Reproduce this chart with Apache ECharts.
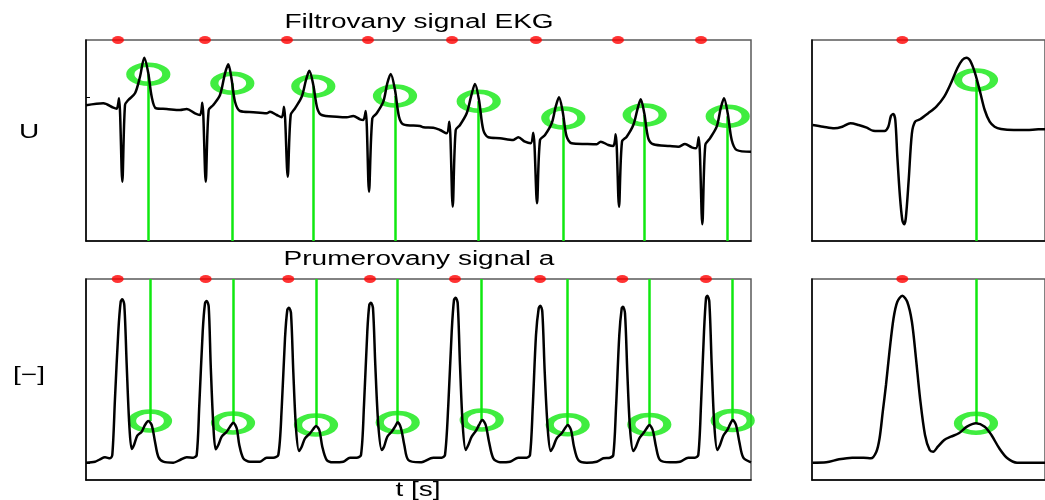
<!DOCTYPE html>
<html>
<head>
<meta charset="utf-8">
<script src="https://cdn.jsdelivr.net/npm/echarts@6/dist/echarts.min.js"></script>
<style>
html, body { margin: 0; padding: 0; background: #fff; }
#chart { width: 1045px; height: 500px; }
</style>
</head>
<body>
<div id="chart"></div>
<script>
// Filtrovany signal EKG, [t (s), U]
const ekgFiltered = [
  [0.00,1.357],[0.173,1.377],[0.273,1.333],[0.307,1.323],[0.33,1.427],[0.363,0.593],[0.39,1.36],[0.423,1.41],[0.49,1.477],[0.54,1.643],[0.583,1.833],[0.623,1.677],[0.657,1.443],[0.70,1.327],[0.807,1.32],[0.94,1.31],[1.007,1.32],[1.09,1.277],[1.14,1.26],
  [1.163,1.383],[1.197,0.593],[1.227,1.31],[1.273,1.36],[1.34,1.46],[1.39,1.677],[1.423,1.767],[1.457,1.61],[1.49,1.393],[1.54,1.30],[1.673,1.287],[1.807,1.277],[1.84,1.293],[1.907,1.26],[1.957,1.237],
  [1.98,1.343],[2.017,0.643],[2.047,1.26],[2.09,1.327],[2.157,1.443],[2.20,1.61],[2.233,1.703],[2.273,1.56],[2.313,1.327],[2.357,1.26],[2.507,1.243],[2.607,1.237],[2.673,1.25],[2.74,1.217],[2.773,1.21],
  [2.797,1.30],[2.83,0.493],[2.863,1.227],[2.907,1.277],[2.973,1.393],[3.013,1.577],[3.047,1.67],[3.09,1.51],[3.13,1.243],[3.173,1.167],[3.34,1.15],[3.373,1.137],[3.473,1.133],[3.54,1.11],[3.607,1.077],
  [3.633,1.193],[3.667,0.343],[3.697,1.11],[3.74,1.16],[3.807,1.277],[3.85,1.443],[3.89,1.57],[3.93,1.41],[3.973,1.11],[4.023,1.037],[4.14,1.027],[4.273,1.01],[4.323,1.037],[4.39,0.993],[4.447,0.977],
  [4.473,1.083],[4.51,0.377],[4.54,1.01],[4.59,1.06],[4.657,1.177],[4.697,1.343],[4.73,1.437],[4.767,1.293],[4.807,1.043],[4.857,0.977],[5.007,0.97],[5.107,0.967],[5.147,0.993],[5.223,0.96],[5.273,0.95],
  [5.297,1.067],[5.33,0.343],[5.36,0.993],[5.407,1.043],[5.473,1.16],[5.517,1.327],[5.547,1.417],[5.583,1.277],[5.623,1.027],[5.673,0.967],[5.84,0.95],[5.923,0.943],[5.99,0.97],[6.057,0.937],[6.10,0.927],
  [6.127,1.037],[6.163,0.167],[6.193,0.96],[6.24,1.027],[6.307,1.143],[6.347,1.327],[6.38,1.427],[6.417,1.277],[6.457,1.01],[6.507,0.91],[6.65,0.893]
];

// Prumerovany signal a
const avgSignal = [
  [0,0.173],[0.09,0.183],[0.14,0.207],[0.19,0.227],[0.24,0.217],[0.263,0.25],[0.29,0.817],[0.323,1.483],[0.347,1.783],[0.363,1.807],[0.383,1.75],[0.407,1.15],[0.433,0.55],[0.457,0.31],[0.48,0.35],[0.513,0.443],[0.557,0.483],[0.59,0.55],[0.623,0.59],[0.657,0.55],[0.69,0.383],[0.723,0.233],[0.773,0.183],[0.873,0.173],[0.94,0.20],[1.007,0.227],[1.073,0.223],
  [1.107,0.25],[1.133,0.75],[1.167,1.483],[1.19,1.767],[1.207,1.79],[1.227,1.733],[1.247,1.15],[1.273,0.55],[1.297,0.307],[1.323,0.35],[1.357,0.433],[1.407,0.483],[1.44,0.533],[1.473,0.573],[1.507,0.517],[1.533,0.35],[1.573,0.217],[1.64,0.183],[1.74,0.183],[1.807,0.223],[1.873,0.223],
  [1.923,0.25],[1.957,0.717],[1.99,1.417],[2.013,1.70],[2.03,1.723],[2.05,1.667],[2.073,1.083],[2.10,0.517],[2.13,0.29],[2.157,0.333],[2.19,0.417],[2.24,0.467],[2.273,0.51],[2.30,0.54],[2.333,0.50],[2.363,0.333],[2.407,0.20],[2.473,0.177],[2.573,0.183],[2.64,0.223],[2.707,0.223],
  [2.75,0.25],[2.78,0.75],[2.813,1.483],[2.833,1.75],[2.85,1.773],[2.87,1.717],[2.893,1.15],[2.923,0.55],[2.957,0.30],[2.98,0.333],[3.013,0.433],[3.057,0.483],[3.09,0.533],[3.117,0.577],[3.15,0.517],[3.183,0.35],[3.223,0.20],[3.34,0.177],[3.373,0.183],[3.473,0.223],[3.557,0.223],
  [3.59,0.25],[3.623,0.75],[3.657,1.483],[3.68,1.80],[3.697,1.823],[3.717,1.767],[3.74,1.15],[3.767,0.55],[3.797,0.30],[3.823,0.35],[3.857,0.433],[3.90,0.493],[3.93,0.55],[3.963,0.60],[3.997,0.55],[4.03,0.383],[4.073,0.217],[4.14,0.177],[4.24,0.183],[4.323,0.223],[4.407,0.223],
  [4.44,0.25],[4.467,0.717],[4.50,1.45],[4.527,1.717],[4.543,1.743],[4.563,1.683],[4.587,1.083],[4.617,0.517],[4.647,0.29],[4.673,0.333],[4.707,0.417],[4.757,0.467],[4.79,0.517],[4.817,0.55],[4.85,0.50],[4.88,0.333],[4.923,0.20],[5.007,0.173],[5.107,0.183],[5.173,0.217],[5.24,0.223],
  [5.273,0.25],[5.30,0.717],[5.333,1.45],[5.357,1.717],[5.37,1.733],[5.39,1.667],[5.413,1.083],[5.44,0.517],[5.473,0.29],[5.50,0.333],[5.533,0.417],[5.573,0.467],[5.607,0.517],[5.633,0.55],[5.667,0.50],[5.70,0.333],[5.74,0.20],[5.84,0.177],[5.94,0.183],[6.023,0.223],[6.09,0.223],
  [6.123,0.25],[6.15,0.75],[6.18,1.483],[6.20,1.817],[6.213,1.843],[6.233,1.783],[6.257,1.15],[6.283,0.55],[6.313,0.30],[6.34,0.35],[6.373,0.443],[6.413,0.50],[6.44,0.557],[6.467,0.60],[6.50,0.55],[6.533,0.383],[6.573,0.223],[6.65,0.177]
];

// single beat detail (right panels), t in s from panel start
const ekgBeat = [
  [0.002,1.16],[0.038,1.143],[0.077,1.127],[0.104,1.143],[0.132,1.177],[0.16,1.16],[0.188,1.133],[0.21,1.103],[0.249,1.10],[0.262,1.143],[0.271,1.25],[0.279,1.27],[0.286,1.21],[0.293,0.843],[0.302,0.443],[0.31,0.21],[0.316,0.167],[0.322,0.227],[0.332,0.61],[0.343,1.077],[0.354,1.193],
  [0.371,1.217],[0.399,1.277],[0.427,1.343],[0.454,1.443],[0.477,1.577],[0.499,1.727],[0.516,1.81],[0.53,1.833],[0.543,1.803],[0.56,1.677],[0.577,1.493],[0.593,1.31],[0.61,1.193],[0.627,1.143],[0.649,1.12],[0.693,1.11],[0.738,1.11],[0.777,1.117],[0.80,1.117]
];
const avgBeat = [
  [0.002,0.173],[0.049,0.177],[0.093,0.207],[0.138,0.223],[0.177,0.223],[0.202,0.217],[0.221,0.283],[0.232,0.417],[0.243,0.683],[0.254,0.95],[0.266,1.283],[0.28,1.617],[0.293,1.783],[0.31,1.843],[0.327,1.783],[0.343,1.583],[0.357,1.217],[0.371,0.817],[0.388,0.45],[0.404,0.30],
  [0.416,0.283],[0.432,0.333],[0.454,0.40],[0.477,0.433],[0.504,0.467],[0.532,0.533],[0.563,0.567],[0.593,0.533],[0.616,0.45],[0.643,0.317],[0.671,0.217],[0.704,0.173],[0.777,0.173],[0.80,0.173]
];

// detected R peaks (red) and T waves (green)
const rPeakTop = [0.32, 1.19, 2.01, 2.82, 3.66, 4.50, 5.32, 6.15];
const rPeakBottom = [0.317, 1.197, 2.023, 2.84, 3.69, 4.54, 5.363, 6.20];
const tWaveTimeTop = [0.623, 1.463, 2.273, 3.09, 3.927, 4.773, 5.587, 6.417];
const tWaveValueTop = [1.668, 1.577, 1.547, 1.45, 1.398, 1.23, 1.26, 1.247];
const tWaveTimeBottom = [0.64, 1.47, 2.30, 3.117, 3.957, 4.817, 5.633, 6.467];
const tWaveValueBottom = [0.59, 0.57, 0.55, 0.575, 0.60, 0.552, 0.555, 0.595];
const beatRPeak = [0.31];
const beatTWaveTime = [0.563];
const beatTWaveTop = [1.61];
const beatTWaveBottom = [0.567];

const Y_MAX = 2.01;
const GREEN = '#10e810';
const FONT = '20px "Liberation Sans", Arial, sans-serif';

const chart = echarts.init(document.getElementById('chart'));

const grids = [
  { left: 86, top: 40, width: 665, height: 201 },
  { left: 812, top: 40, width: 240, height: 201 },
  { left: 86, top: 279, width: 665, height: 201 },
  { left: 812, top: 279, width: 240, height: 201 }
];
const xMax = [6.65, 0.8, 6.65, 0.8];
const yTick = [[1.44], [], [0.17], []];

const curve = (i, data) => ({
  type: 'line', xAxisIndex: i, yAxisIndex: i, data: data,
  showSymbol: false, smooth: 0.3, z: 5,
  lineStyle: { color: '#000', width: 2.5 }
});

const dots = (i, times) => ({
  type: 'scatter', xAxisIndex: i, yAxisIndex: i, clip: false, z: 6,
  data: times.map(t => [t, Y_MAX]),
  symbol: 'circle', symbolSize: [12, 8],
  itemStyle: { color: '#ff0000' }
});

// green ring + vertical line from the edge of the panel
const rings = (i, times, values, from) => ({
  type: 'scatter', xAxisIndex: i, yAxisIndex: i, clip: false, z: 3,
  data: times.map((t, k) => [t, values[k]]),
  symbol: 'circle', symbolSize: [36, 19],
  itemStyle: { color: 'rgba(0,0,0,0)', borderColor: GREEN, borderWidth: 6 },
  markLine: {
    silent: true, symbol: ['none', 'none'], animation: false,
    label: { show: false },
    lineStyle: { color: GREEN, width: 2.5, type: 'solid' },
    data: times.map((t, k) => [{ coord: [t, from] }, { coord: [t, values[k]] }])
  }
});

const txt = (x, y, text) => ({
  type: 'text', x: x, y: y, scaleX: 1.4,
  style: {
    text: text, font: FONT, fill: '#000',
    align: 'center', verticalAlign: 'middle',
    textAlign: 'center', textVerticalAlign: 'middle'
  }
});

const option = {
  animation: false,
  backgroundColor: '#fff',
  grid: grids.map(g => Object.assign({ show: true, borderColor: '#5a5a5a', borderWidth: 1.5 }, g)),
  xAxis: grids.map((g, i) => ({
    gridIndex: i, type: 'value', min: 0, max: xMax[i],
    axisLine: { show: true, onZero: false, lineStyle: { color: '#000', width: 1.5 } },
    axisTick: { show: false }, axisLabel: { show: false }, splitLine: { show: false }
  })),
  yAxis: grids.map((g, i) => ({
    gridIndex: i, type: 'value', min: 0, max: Y_MAX,
    axisLine: { show: true, onZero: false, lineStyle: { color: '#000', width: 1.5 } },
    axisTick: { show: yTick[i].length > 0, inside: true, length: 4, customValues: yTick[i], lineStyle: { color: '#000' } },
    axisLabel: { show: false }, splitLine: { show: false }
  })),
  graphic: [
    txt(419, 22, 'Filtrovany signal EKG'),
    txt(419, 259, 'Prumerovany signal a'),
    txt(418, 490, 't [s]'),
    txt(29, 132, 'U'),
    txt(29, 375, '[−]')
  ],
  series: [
    rings(0, tWaveTimeTop, tWaveValueTop, 0),
    curve(0, ekgFiltered),
    dots(0, rPeakTop),
    rings(1, beatTWaveTime, beatTWaveTop, 0),
    curve(1, ekgBeat),
    dots(1, beatRPeak),
    rings(2, tWaveTimeBottom, tWaveValueBottom, Y_MAX),
    curve(2, avgSignal),
    dots(2, rPeakBottom),
    rings(3, beatTWaveTime, beatTWaveBottom, Y_MAX),
    curve(3, avgBeat),
    dots(3, beatRPeak)
  ]
};

chart.setOption(option);
</script>
</body>
</html>
